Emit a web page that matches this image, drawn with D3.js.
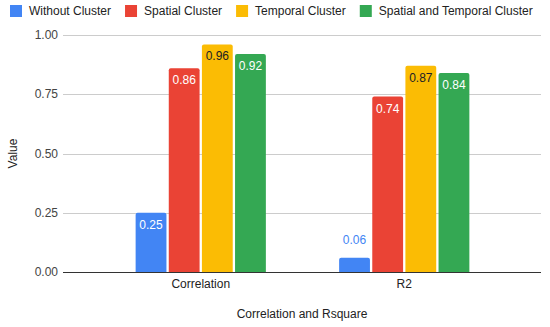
<!DOCTYPE html>
<html>
<head>
<meta charset="utf-8">
<script src="https://cdn.jsdelivr.net/npm/d3@7"></script>
<style>
	body { margin: 0; background: #fff; }
	svg { display: block; font-family: Arial, "Liberation Sans", sans-serif; }
</style>
</head>
<body>
<svg id="chart" width="550" height="327"></svg>
<script>
// data
const categories = ['Correlation', 'R2'];
const seriesNames = ['Without Cluster', 'Spatial Cluster', 'Temporal Cluster', 'Spatial and Temporal Cluster'];
const withoutCluster = [0.25, 0.06];
const spatialCluster = [0.86, 0.74];
const temporalCluster = [0.96, 0.87];
const spatialTemporalCluster = [0.92, 0.84];
const yTicks = [0, 0.25, 0.5, 0.75, 1];

const colors = ['#4285f4', '#ea4335', '#fbbc04', '#34a853'];
const labelColors = ['#ffffff', '#ffffff', '#202124', '#ffffff'];
const allSeries = [withoutCluster, spatialCluster, temporalCluster, spatialTemporalCluster];

const svg = d3.select('#chart');

const plot = { left: 63, right: 541, top: 35, bottom: 272 };

const y = d3.scaleLinear()
	.domain([0, 1])
	.range([plot.bottom, plot.top]);

const x0 = d3.scaleBand()
	.domain(categories)
	.range([99, 506]);

const x1 = d3.scaleBand()
	.domain(seriesNames)
	.range([x0.bandwidth() * 0.18, x0.bandwidth() * 0.82])
	.paddingInner(0.07);

// gridlines
svg.append('g')
	.selectAll('line')
	.data(yTicks.filter((t) => t > 0))
	.enter()
	.append('line')
	.attr('x1', plot.left)
	.attr('x2', plot.right)
	.attr('y1', (d) => Math.round(y(d)) + 0.5)
	.attr('y2', (d) => Math.round(y(d)) + 0.5)
	.attr('stroke', '#cccccc')
	.attr('stroke-width', 1);

// y tick labels
svg.append('g')
	.selectAll('text')
	.data(yTicks)
	.enter()
	.append('text')
	.attr('x', 58)
	.attr('y', (d) => y(d) + 4)
	.attr('text-anchor', 'end')
	.attr('font-size', 12)
	.attr('fill', '#444')
	.text(d3.format('.2f'));

// bars
const rows = [];
categories.forEach((c, ci) => {
	seriesNames.forEach((s, si) => {
		rows.push({ cat: c, series: s, si: si, value: allSeries[si][ci] });
	});
});

const barPath = (x, top, w, bottom, r) =>
	'M' + x + ',' + bottom +
	'V' + (top + r) +
	'Q' + x + ',' + top + ' ' + (x + r) + ',' + top +
	'H' + (x + w - r) +
	'Q' + (x + w) + ',' + top + ' ' + (x + w) + ',' + (top + r) +
	'V' + bottom + 'Z';

svg.append('g')
	.selectAll('path')
	.data(rows)
	.enter()
	.append('path')
	.attr('d', (d) => barPath(x0(d.cat) + x1(d.series), y(d.value), x1.bandwidth(), y(0), 2))
	.attr('fill', (d) => colors[d.si]);

// data labels
svg.append('g')
	.selectAll('text')
	.data(rows)
	.enter()
	.append('text')
	.attr('x', (d) => x0(d.cat) + x1(d.series) + x1.bandwidth() / 2)
	.attr('y', (d) => (y(0) - y(d.value) > 25) ? y(d.value) + 16 : y(d.value) - 14)
	.attr('text-anchor', 'middle')
	.attr('font-size', 12)
	.attr('fill', (d) => (y(0) - y(d.value) > 25) ? labelColors[d.si] : colors[d.si])
	.text((d) => d3.format('.2f')(d.value));

// baseline
svg.append('line')
	.attr('x1', plot.left)
	.attr('x2', plot.right)
	.attr('y1', Math.round(y(0)) + 0.5)
	.attr('y2', Math.round(y(0)) + 0.5)
	.attr('stroke', '#333333')
	.attr('stroke-width', 1);

// x labels
svg.append('g')
	.selectAll('text')
	.data(categories)
	.enter()
	.append('text')
	.attr('x', (d) => x0(d) + x0.bandwidth() / 2)
	.attr('y', 288)
	.attr('text-anchor', 'middle')
	.attr('font-size', 12)
	.attr('fill', '#222')
	.text((d) => d);

// axis titles
svg.append('text')
	.attr('x', (plot.left + plot.right) / 2)
	.attr('y', 318)
	.attr('text-anchor', 'middle')
	.attr('font-size', 12)
	.attr('fill', '#222')
	.text('Correlation and Rsquare');

svg.append('text')
	.attr('transform', 'translate(17,' + ((plot.top + plot.bottom) / 2) + ') rotate(-90)')
	.attr('text-anchor', 'middle')
	.attr('font-size', 12)
	.attr('fill', '#222')
	.text('Value');

// legend
const legend = svg.append('g');
let lx = 10;
seriesNames.forEach((s, i) => {
	legend.append('rect')
		.attr('x', lx)
		.attr('y', 5)
		.attr('width', 12)
		.attr('height', 12)
		.attr('fill', colors[i]);

	const t = legend.append('text')
		.attr('x', lx + 19)
		.attr('y', 15)
		.attr('font-size', 12)
		.attr('fill', '#222')
		.text(s);

	lx += 19 + t.node().getComputedTextLength() + 14;
});
</script>
</body>
</html>
